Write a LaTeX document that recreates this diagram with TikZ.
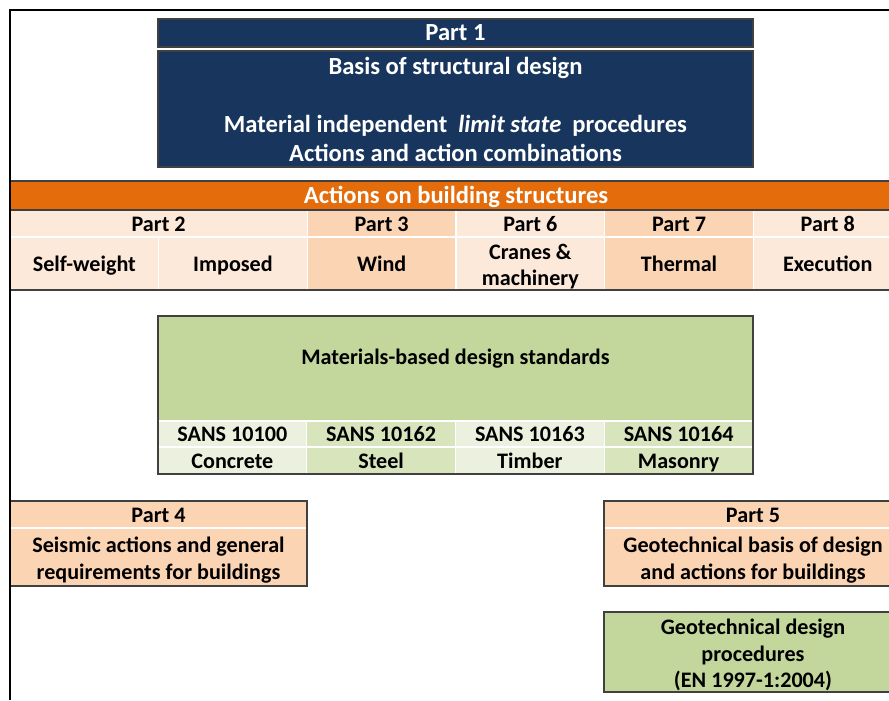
\documentclass[tikz,border=0pt]{standalone}
\usepackage{fontspec}
\setmainfont{Carlito}
\usetikzlibrary{positioning}
\definecolor{navy}{RGB}{24,54,93}
\definecolor{act_orange}{RGB}{228,108,10}
\definecolor{peach_light}{RGB}{253,233,217}
\definecolor{peach_dark}{RGB}{251,212,180}
\definecolor{green_main}{RGB}{195,214,155}
\definecolor{green_light}{RGB}{235,241,222}
\definecolor{green_mid}{RGB}{215,228,188}
\definecolor{rim_gray}{RGB}{64,64,64}
\newcommand{\cellstrut}{\rule{0pt}{12.5pt}} % pushes multi-line text down a bit
\tikzstyle{cell} = [
    rectangle,
    draw=white,
    line width=0.8pt,
    inner sep=0pt,
    outer sep=0pt,
    align=center,
    text=black,
    font=\fontsize{12.6}{15}\selectfont\bfseries
]
\tikzstyle{one_line} = [
    text height=0.86em, % text sits a little low, as in the sheet
    text depth=0em
]
\tikzstyle{white_title} = [
    text=white,
    font=\fontsize{14}{16.5}\selectfont\bfseries
]
\tikzstyle{navy_box} = [cell, fill=navy, draw=rim_gray, white_title]
\tikzstyle{orange_bar} = [cell, fill=act_orange, white_title, one_line]
\tikzstyle{peach_light_cell} = [cell, fill=peach_light]
\tikzstyle{peach_dark_cell} = [cell, fill=peach_dark]
\tikzstyle{green_main_cell} = [cell, fill=green_main]
\tikzstyle{green_light_cell} = [cell, fill=green_light, one_line]
\tikzstyle{green_mid_cell} = [cell, fill=green_mid, one_line]
\tikzstyle{rim} = [draw=rim_gray, line width=0.7pt]

\begin{document}
\begin{tikzpicture}[
    x=0.02cm, y=-0.02cm,
    box/.style 2 args={
        minimum width=#1*0.02cm,
        minimum height=#2*0.02cm
    }
]
\useasboundingbox (0,0) rectangle (889,700);
\clip (0,0) rectangle (889,700);

% Part 1
\node [navy_box, one_line, box={595}{28}, anchor=north] (p1_head) at (455.5,19) {Part 1};
\node [navy_box, box={595}{116}, below=0.08cm of p1_head] (p1_body)
    {Basis of structural design\\[16.5pt]
     Material independent\ \ \textit{limit state}\ \ procedures\\
     Actions and action combinations};

% actions on building structures
\node [orange_bar, box={892}{29}, anchor=north west] (actions) at (10,181)
    {Actions on building structures};
\node [peach_light_cell, one_line, box={297.3}{27}, anchor=north west] (part2) at (actions.south west) {Part 2};
\node [peach_dark_cell, one_line, box={148.7}{27}, right=0pt of part2] (part3) {Part 3};
\node [peach_light_cell, one_line, box={148.7}{27}, right=0pt of part3] (part6) {Part 6};
\node [peach_dark_cell, one_line, box={148.7}{27}, right=0pt of part6] (part7) {Part 7};
\node [peach_light_cell, one_line, box={148.7}{27}, right=0pt of part7] (part8) {Part 8};
\node [peach_light_cell, one_line, box={148.65}{53}, anchor=north west] (self_weight) at (part2.south west) {Self-weight};
\node [peach_light_cell, one_line, box={148.65}{53}, right=0pt of self_weight] (imposed) {Imposed};
\node [peach_dark_cell, one_line, box={148.7}{53}, right=0pt of imposed] (wind) {Wind};
\node [peach_light_cell, box={148.7}{53}, right=0pt of wind] (cranes) {\cellstrut Cranes \&\\machinery};
\node [peach_dark_cell, one_line, box={148.7}{53}, right=0pt of cranes] (thermal) {Thermal};
\node [peach_light_cell, one_line, box={148.7}{53}, right=0pt of thermal] (execution) {Execution};
\draw [rim] (actions.north west) rectangle (execution.south east);
\draw [rim] (actions.south west) -- (actions.south east);

% materials-based design standards
\node [green_main_cell, box={595}{105}, anchor=north] (mat_main) at (455.5,316) {};
\node [cell, one_line, draw=none] (mat_title) at (455.5,357) {Materials-based design standards};
\node [green_light_cell, box={148.75}{26}, anchor=north west] (sans100) at (mat_main.south west) {SANS 10100};
\node [green_mid_cell, box={148.75}{26}, right=0pt of sans100] (sans162) {SANS 10162};
\node [green_light_cell, box={148.75}{26}, right=0pt of sans162] (sans163) {SANS 10163};
\node [green_mid_cell, box={148.75}{26}, right=0pt of sans163] (sans164) {SANS 10164};
\node [green_light_cell, box={148.75}{27}, anchor=north west] (concrete) at (sans100.south west) {Concrete};
\node [green_mid_cell, box={148.75}{27}, right=0pt of concrete] (steel) {Steel};
\node [green_light_cell, box={148.75}{27}, right=0pt of steel] (timber) {Timber};
\node [green_mid_cell, box={148.75}{27}, right=0pt of timber] (masonry) {Masonry};
\draw [rim] (mat_main.north west) rectangle (masonry.south east);

% Part 4
\node [peach_dark_cell, one_line, box={297}{27}, anchor=north west] (part4_head) at (10,501) {Part 4};
\node [peach_dark_cell, box={297}{58}, below=0pt of part4_head] (part4_body)
    {\cellstrut Seismic actions and general\\requirements for buildings};
\draw [rim] (part4_head.north west) rectangle (part4_body.south east);

% Part 5
\node [peach_dark_cell, one_line, box={298}{27}, anchor=north west] (part5_head) at (604,501) {Part 5};
\node [peach_dark_cell, box={298}{58}, below=0pt of part5_head] (part5_body)
    {\cellstrut Geotechnical basis of design\\and actions for buildings};
\draw [rim] (part5_head.north west) rectangle (part5_body.south east);

% geotechnical design
\node [green_main_cell, box={298}{80}, anchor=north west] (geo) at (604,612)
    {\cellstrut Geotechnical design\\procedures\\(EN 1997-1:2004)};
\draw [rim] (geo.north west) rectangle (geo.south east);

% frame
\draw [black, line width=1.2pt] (10,700) -- (10,10) -- (889,10);
\end{tikzpicture}
\end{document}
